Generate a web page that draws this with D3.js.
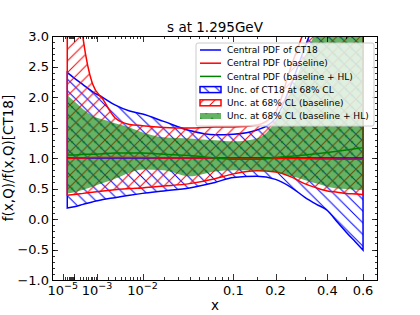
<!DOCTYPE html>
<html>
<head>
<meta charset="utf-8">
<script src="https://cdn.jsdelivr.net/npm/d3@7/dist/d3.min.js"></script>
<style>
  body { margin: 0; background: #fff; }
  svg text { font-family: "DejaVu Sans", sans-serif; fill: #000; }
</style>
</head>
<body>
<svg id="chart" width="420" height="315"></svg>
<script>
// x grid shared by every curve
const xPoints = [3e-5, 1e-4, 3e-4, 7e-4, 1.5e-3, 3e-3, 6e-3, 0.01, 0.02, 0.04, 0.07, 0.1,
                 0.15, 0.2, 0.25, 0.3, 0.35, 0.4, 0.45, 0.5, 0.55, 0.6];

// CT18 band (ratio to itself, so central = 1)
const ct18Central = [1, 1, 1, 1, 1, 1, 1, 1, 1, 1, 1, 1, 1, 1, 1, 1, 1, 1, 1, 1, 1, 1];
const ct18Up = [2.40, 2.31, 2.20, 2.09, 1.99, 1.87, 1.77, 1.72, 1.60, 1.45, 1.38, 1.39,
                1.46, 1.65, 2.20, 2.80, 3.30, 3.70, 4.00, 4.30, 4.60, 5.00];
const ct18Lo = [0.18, 0.20, 0.24, 0.28, 0.32, 0.35, 0.39, 0.42, 0.46, 0.51, 0.60, 0.68,
                0.70, 0.65, 0.52, 0.36, 0.24, 0.14, -0.05, -0.22, -0.37, -0.51];

// baseline
const baseCentral = [0.99, 1.00, 1.00, 1.01, 1.01, 1.01, 1.01, 1.01, 1.00, 1.00, 1.00, 0.995,
                     0.99, 0.99, 0.99, 0.99, 0.985, 0.985, 0.98, 0.98, 0.98, 0.98];
const baseUp = [6.00, 4.30, 2.95, 2.22, 1.96, 1.66, 1.55, 1.53, 1.50, 1.49, 1.51, 1.51,
                1.54, 1.75, 2.50, 3.10, 3.60, 4.00, 4.40, 4.80, 5.20, 5.60];
const baseLo = [0.39, 0.40, 0.42, 0.44, 0.46, 0.48, 0.50, 0.51, 0.54, 0.58, 0.66, 0.74,
                0.79, 0.77, 0.69, 0.58, 0.51, 0.46, 0.44, 0.42, 0.41, 0.40];

// baseline + HL
const hlCentral = [1.05, 1.05, 1.06, 1.06, 1.07, 1.08, 1.08, 1.08, 1.06, 1.04, 1.00, 0.98,
                   0.98, 1.01, 1.03, 1.05, 1.07, 1.09, 1.11, 1.13, 1.15, 1.17];
const hlUp = [2.03, 1.93, 1.80, 1.69, 1.63, 1.57, 1.50, 1.42, 1.34, 1.32, 1.29, 1.27,
              1.32, 1.60, 2.10, 2.65, 3.10, 3.50, 3.90, 4.30, 4.60, 5.00];
const hlLo = [0.42, 0.44, 0.48, 0.53, 0.59, 0.66, 0.76, 0.81, 0.80, 0.70, 0.78, 0.80,
              0.80, 0.77, 0.71, 0.64, 0.58, 0.53, 0.50, 0.49, 0.48, 0.47];

// axes
const xTickVals = [1e-5, 1e-3, 1e-2, 0.1, 0.2, 0.4, 0.6];
const xTickText = ["10^−5", "10^−3", "10^−2", "0.1", "0.2", "0.4", "0.6"];
const xMinorExtra = [0.15, 0.3, 0.5];
const yTickVals = [-1, -0.5, 0, 0.5, 1, 1.5, 2, 2.5, 3];

const legendLabels = [
  "Central PDF of CT18",
  "Central PDF (baseline)",
  "Central PDF (baseline + HL)",
  "Unc. of CT18 at 68% CL",
  "Unc. at 68% CL (baseline)",
  "Unc. at 68% CL (baseline + HL)"
];

const L = 52, R = 378, T = 36, B = 280;
const svg = d3.select("#chart");

const x = d3.scalePow().exponent(0.3).domain([0, 0.7]).range([51.3, 377.8]);
const y = d3.scaleLinear().domain([-1, 3]).range([B, T]);

// patterns
const defs = svg.append("defs");
const s = 11.67;
defs.append("clipPath").attr("id", "plotClip")
  .append("rect").attr("x", L).attr("y", T).attr("width", R - L).attr("height", B - T);

defs.append("pattern").attr("id", "hatchBlue")
  .attr("patternUnits", "userSpaceOnUse").attr("width", s).attr("height", s)
  .append("path")
  .attr("d", `M0,0L${s},${s}M-1,${s - 1}L1,${s + 1}M${s - 1},-1L${s + 1},1`)
  .attr("stroke", "blue").attr("stroke-width", 1);

defs.append("pattern").attr("id", "hatchRed")
  .attr("patternUnits", "userSpaceOnUse").attr("width", s).attr("height", s)
  .append("path")
  .attr("d", `M0,${s}L${s},0M-1,1L1,-1M${s - 1},${s + 1}L${s + 1},${s - 1}`)
  .attr("stroke", "red").attr("stroke-width", 1);

const dots = defs.append("pattern").attr("id", "dotsGreen")
  .attr("patternUnits", "userSpaceOnUse").attr("width", s).attr("height", s);
dots.append("circle").attr("cx", 2).attr("cy", 2).attr("r", 1.3).attr("fill", "green");
dots.append("circle").attr("cx", 2 + s / 2).attr("cy", 2 + s / 2).attr("r", 1.3).attr("fill", "green");

// data rows
const rows = xPoints.map((xv, i) => ({
  x: xv,
  ctC: ct18Central[i], ctU: ct18Up[i], ctL: ct18Lo[i],
  bC: baseCentral[i], bU: baseUp[i], bL: baseLo[i],
  hC: hlCentral[i], hU: hlUp[i], hL: hlLo[i]
}));

const band = (lo, hi) => d3.area()
  .x(d => x(d.x)).y0(d => y(d[lo])).y1(d => y(d[hi]))
  .curve(d3.curveMonotoneX);
const line = key => d3.line().x(d => x(d.x)).y(d => y(d[key])).curve(d3.curveMonotoneX);

const plot = svg.append("g").attr("clip-path", "url(#plotClip)");

// CT18 band
plot.append("path").datum(rows).attr("d", band("ctL", "ctU"))
  .attr("fill", "url(#hatchBlue)");
plot.append("path").datum(rows).attr("d", band("ctL", "ctU"))
  .attr("fill", "none").attr("stroke", "blue").attr("stroke-width", 1.5);

// baseline band
plot.append("path").datum(rows).attr("d", band("bL", "bU"))
  .attr("fill", "url(#hatchRed)");
plot.append("path").datum(rows).attr("d", band("bL", "bU"))
  .attr("fill", "none").attr("stroke", "red").attr("stroke-width", 1.5);

// baseline + HL band (alpha fill drawn over the hatches)
plot.append("path").datum(rows).attr("d", band("hL", "hU"))
  .attr("fill", "green").attr("opacity", 0.6);
plot.append("path").datum(rows).attr("d", band("hL", "hU"))
  .attr("fill", "url(#dotsGreen)").attr("opacity", 0.6);

// central lines
plot.append("path").datum(rows).attr("d", line("ctC"))
  .attr("fill", "none").attr("stroke", "blue").attr("stroke-width", 1.5);
plot.append("path").datum(rows).attr("d", line("bC"))
  .attr("fill", "none").attr("stroke", "red").attr("stroke-width", 1.5);
plot.append("path").datum(rows).attr("d", line("hC"))
  .attr("fill", "none").attr("stroke", "green").attr("stroke-width", 1.5);

// ticks (inward, all four sides)
const xMinor = [];
[1e-5, 1e-4, 1e-3, 1e-2].forEach(dec => {
  for (let k = 2; k <= 9; k++) xMinor.push(dec * k);
});
xMinorExtra.forEach(v => xMinor.push(v));
const xMajorAll = [1e-5, 1e-4].concat(xTickVals.slice(1));
const yMinor = d3.range(-10, 31).map(v => v / 10);

const tk = svg.append("g").attr("stroke", "#000").attr("stroke-width", 0.8);
function xTicks(vals, len) {
  vals.forEach(v => {
    const px = Math.round(x(v)) + 0.5;
    tk.append("line").attr("x1", px).attr("x2", px).attr("y1", B).attr("y2", B - len);
    tk.append("line").attr("x1", px).attr("x2", px).attr("y1", T).attr("y2", T + len);
  });
}
function yTicks(vals, len) {
  vals.forEach(v => {
    const py = Math.round(y(v)) + 0.5;
    tk.append("line").attr("x1", L).attr("x2", L + len).attr("y1", py).attr("y2", py);
    tk.append("line").attr("x1", R).attr("x2", R - len).attr("y1", py).attr("y2", py);
  });
}
xTicks(xMinor, 3);
xTicks(xMajorAll, 6);
yTicks(yMinor, 3);
yTicks(yTickVals, 6);

// frame
svg.append("rect").attr("x", L + 0.5).attr("y", T + 0.5)
  .attr("width", R - L - 1).attr("height", B - T)
  .attr("fill", "none").attr("stroke", "#000").attr("stroke-width", 1);

// tick labels
const fmt = d3.format(".1f");
svg.append("g").selectAll("text").data(yTickVals).join("text")
  .attr("x", 49).attr("y", d => y(d)).attr("dy", "0.36em")
  .attr("text-anchor", "end").style("font-size", "13px")
  .text(d => fmt(d));

xTickVals.forEach((v, i) => {
  const parts = xTickText[i].split("^");
  const t = svg.append("text").attr("x", x(v)).attr("y", 295)
    .attr("text-anchor", "middle").style("font-size", "13px");
  t.append("tspan").text(parts[0]);
  if (parts[1]) {
    t.append("tspan").attr("dy", -6).style("font-size", "9.5px").text(parts[1]);
  }
});

// titles
svg.append("text").attr("x", (L + R) / 2).attr("y", 32).attr("text-anchor", "middle")
  .style("font-size", "13.5px").text("s at 1.295GeV");
svg.append("text").attr("x", (L + R) / 2).attr("y", 310).attr("text-anchor", "middle")
  .style("font-size", "13.5px").text("x");
svg.append("text").attr("transform", `translate(13,${(T + B) / 2}) rotate(-90)`)
  .attr("text-anchor", "middle").style("font-size", "13.5px")
  .text("f(x,Q)/f(x,Q)[CT18]");

// legend
const lg = svg.append("g");
lg.append("rect").attr("x", 196).attr("y", 43).attr("width", 178).attr("height", 83)
  .attr("rx", 2).attr("fill", "#fff").attr("fill-opacity", 0.8)
  .attr("stroke", "#ccc").attr("stroke-width", 1);
const rowY = i => 50 + i * 13.2;
const handleColors = ["blue", "red", "green"];
handleColors.forEach((c, i) => {
  lg.append("line").attr("x1", 200).attr("x2", 221).attr("y1", rowY(i)).attr("y2", rowY(i))
    .attr("stroke", c).attr("stroke-width", 1.5);
});
lg.append("rect").attr("x", 200).attr("y", rowY(3) - 3).attr("width", 21).attr("height", 6)
  .attr("fill", "url(#hatchBlue)").attr("stroke", "blue").attr("stroke-width", 1.5);
lg.append("rect").attr("x", 200).attr("y", rowY(4) - 3).attr("width", 21).attr("height", 6)
  .attr("fill", "url(#hatchRed)").attr("stroke", "red").attr("stroke-width", 1.5);
lg.append("rect").attr("x", 200).attr("y", rowY(5) - 3).attr("width", 21).attr("height", 6)
  .attr("fill", "green").attr("opacity", 0.6);
lg.append("rect").attr("x", 200).attr("y", rowY(5) - 3).attr("width", 21).attr("height", 6)
  .attr("fill", "url(#dotsGreen)").attr("opacity", 0.6);
lg.selectAll("text.lbl").data(legendLabels).join("text").attr("class", "lbl")
  .attr("x", 227).attr("y", (d, i) => rowY(i)).attr("dy", "0.35em")
  .style("font-size", "9px").text(d => d);
</script>
</body>
</html>
